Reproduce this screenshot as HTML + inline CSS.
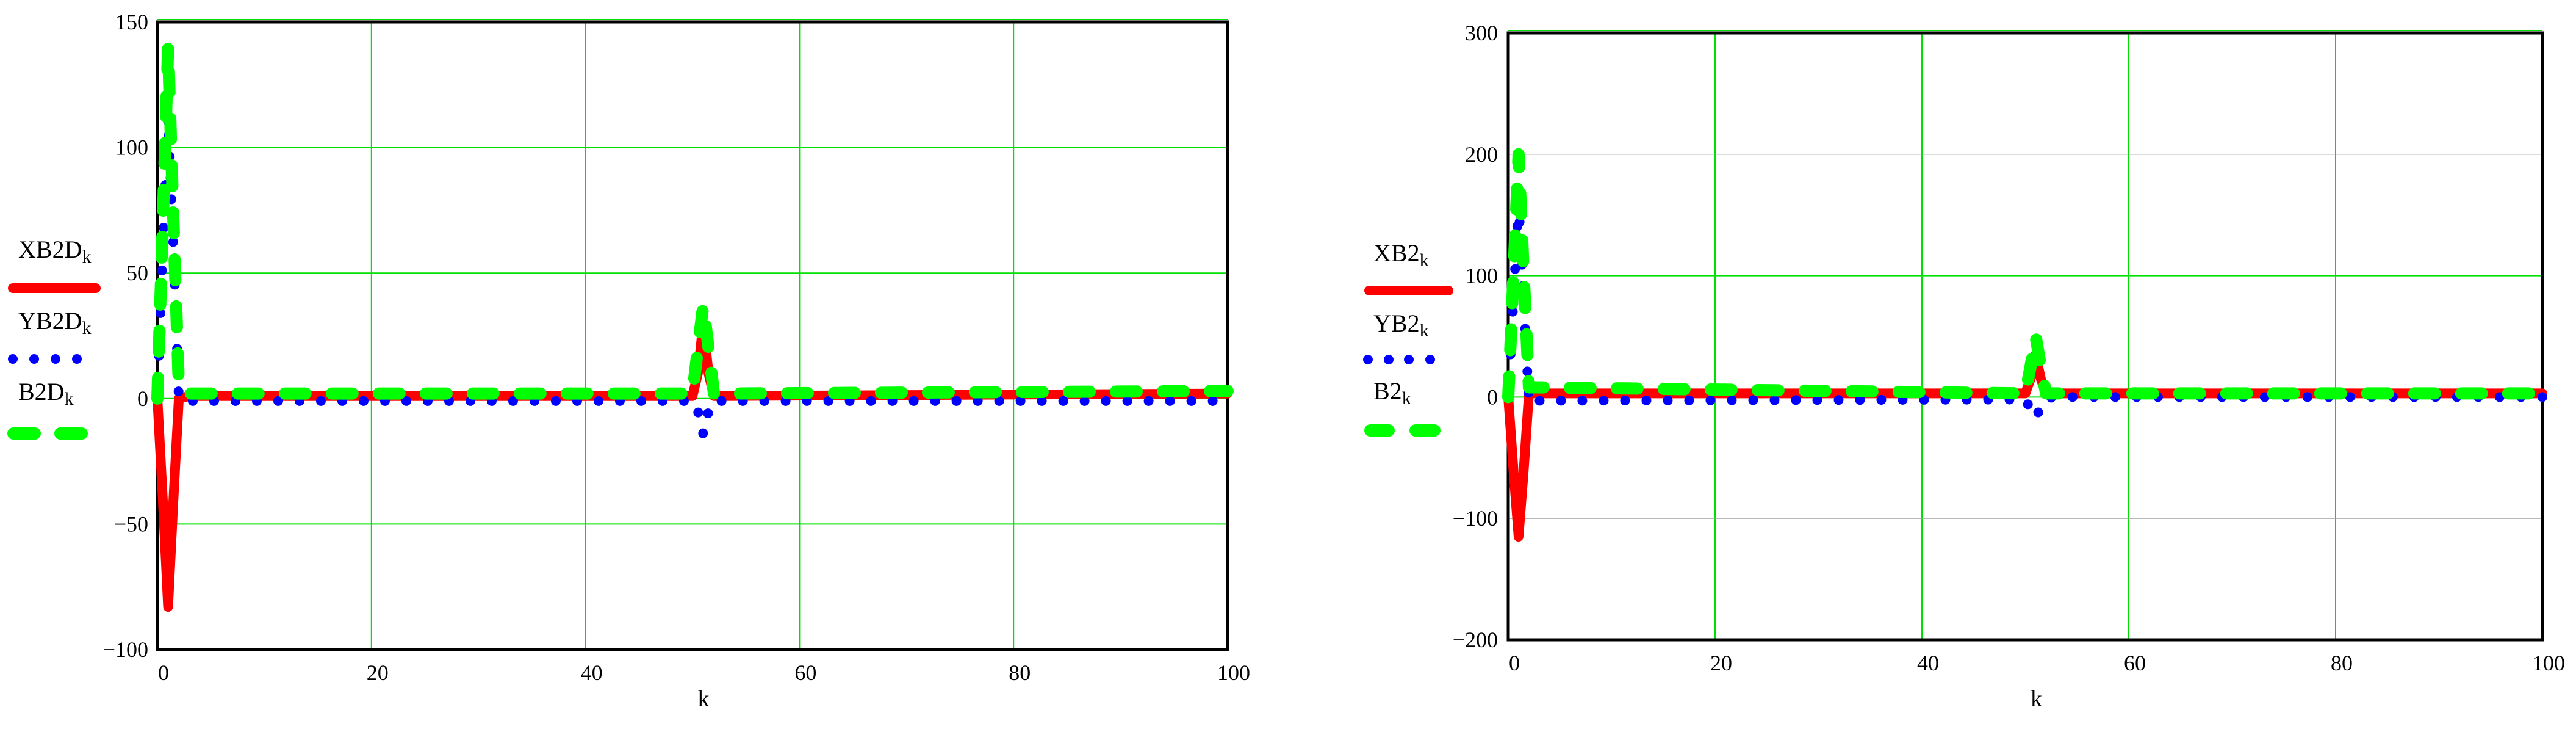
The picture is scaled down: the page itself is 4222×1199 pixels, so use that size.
<!DOCTYPE html>
<html><head><meta charset="utf-8"><style>
html,body{margin:0;padding:0;background:#fff;}
svg{display:block;font-family:"Liberation Serif",serif;}
</style></head><body>
<svg id="chart" width="4222" height="1199" viewBox="0 0 4222 1199" xmlns="http://www.w3.org/2000/svg"></svg>
<script>
// ---- data ----
const kLeft = [0,0.5,1,1.5,2,3,50,50.5,51,51.5,52,53,100];
const xb2dValues = [0,-40,-83,-40,0,1,1,10,30,10,1,1,2];
const yb2dValues = [0,60,112,60,0,-1,-1,-5,-14,-5,-1,-1,-1];
const b2dValues = [0,70,140,70,5,2,2,20,37,20,2,2,3];
const kRight = [0,0.5,1,1.5,2,3,50,50.5,51,51.5,52,53,100];
const xb2Values = [0,-60,-115,-60,3,3,3,15,35,15,3,3,3];
const yb2Values = [0,80,160,80,-5,-3,-2,-10,-17,-8,-1,0,0];
const b2Values = [0,100,200,100,8,8,3,25,50,25,3,3,3];
const xTicks = [0,20,40,60,80,100];
const yTicksLeft = [150,100,50,0,-50,-100];
const yTicksRight = [300,200,100,0,-100,-200];
const gridRightGray = [200,-100];

const NS='http://www.w3.org/2000/svg';
const svg=document.getElementById('chart');
function mk(tag,attrs,parent){const e=document.createElementNS(NS,tag);for(const k in attrs)e.setAttribute(k,attrs[k]);(parent||svg).appendChild(e);return e;}
function fmt(v){return v<0?'\u2212'+Math.abs(v):String(v);}

function plot(cfg){
  const g=mk('g',{});
  
  
  const sx=k=>cfg.x0+(k-0)/(100)*(cfg.x1-cfg.x0);
  const sy=v=>cfg.y1-(v-cfg.ymin)/(cfg.ymax-cfg.ymin)*(cfg.y1-cfg.y0);
  // grid
  xTicks.forEach(t=>{
    const l=mk('line',{x1:sx(t),x2:sx(t),y1:cfg.y0,y2:cfg.y1,stroke:'#00e000','stroke-width':2},g);
    
    
  });
  cfg.yTicks.forEach(t=>{
    const gray=cfg.gray.indexOf(t)>=0;
    const l=mk('line',{x1:cfg.x0,x2:cfg.x1,y1:sy(t),y2:sy(t),stroke:gray?'#a0a0a0':'#00e000','stroke-width':gray?1.2:2},g);
    
    
  });
  // top green line slightly above frame
  mk('line',{x1:cfg.x0,x2:cfg.x1,y1:cfg.y0-4,y2:cfg.y0-4,stroke:'#00e000','stroke-width':2},g);
  // frame
  const fr=mk('rect',{x:cfg.x0,y:cfg.y0,width:cfg.x1-cfg.x0,height:cfg.y1-cfg.y0,fill:'none',stroke:'#000','stroke-width':5},g);
  
  
  // series
  const pts=(ks,vs)=>ks.map((k,i)=>sx(k).toFixed(1)+','+sy(vs[i]).toFixed(1)).join(' ');
  const r=mk('polyline',{points:pts(cfg.k,cfg.red),fill:'none',stroke:'#ff0000','stroke-width':16,'stroke-linejoin':'round','stroke-linecap':'round'},g);
  
  
  const b=mk('polyline',{points:pts(cfg.k,cfg.blue),fill:'none',stroke:'#0000ff','stroke-width':16,'stroke-dasharray':'0 35','stroke-linecap':'round'},g);
  
  
  const gr=mk('polyline',{points:pts(cfg.k,cfg.green),fill:'none',stroke:'#00ff00','stroke-width':20,'stroke-dasharray':'34 43','stroke-linecap':'round','stroke-linejoin':'round'},g);
  
  
  // tick labels
  cfg.yTicks.concat(cfg.extraY||[]).forEach(t=>{
    const tx=mk('text',{x:cfg.labelX,y:sy(t)+12,'text-anchor':'end','font-size':36},g);
    tx.textContent=fmt(t);
    
    
  });
  xTicks.forEach(t=>{
    const tx=mk('text',{x:sx(t)+10,y:cfg.y1+50,'text-anchor':'middle','font-size':36},g);
    tx.textContent=String(t);
    
    
  });
  const kl=mk('text',{x:(cfg.x0+cfg.x1)/2+18,y:1157,'text-anchor':'middle','font-size':38},g);
  kl.textContent='k';
  
  
  // legend
  const L=cfg.leg;
  const names=cfg.names;
  [L.t1,L.t2,L.t3].forEach((ty,i)=>{
    const tx=mk('text',{x:L.tx,y:ty,'font-size':40},g);
    tx.textContent=names[i];
    const sub=mk('tspan',{'font-size':30,dy:8},tx);
    sub.textContent='k';
    
    
  });
  const lr=mk('line',{x1:L.rx1,x2:L.rx2,y1:L.ry,y2:L.ry,stroke:'#ff0000','stroke-width':16,'stroke-linecap':'round'},g);
  
  
  L.dots.forEach(dx=>{
    const c=mk('circle',{cx:dx,cy:L.dy,r:8,fill:'#0000ff'},g);
    
    
  });
  L.dashes.forEach(d=>{
    const l=mk('line',{x1:d[0]+10,x2:d[1]-10,y1:L.gy,y2:L.gy,stroke:'#00ff00','stroke-width':20,'stroke-linecap':'round'},g);
    
    
  });
}

plot({name:'left-plot',x0:258,x1:2012,y0:36,y1:1064,ymin:-100,ymax:150,yTicks:yTicksLeft,gray:[],
  k:kLeft,red:xb2dValues,blue:yb2dValues,green:b2dValues,labelX:243,
  names:['XB2D','YB2D','B2D'],
  leg:{tx:30,t1:422,t2:539,t3:655,rx1:21,rx2:157,ry:472,dy:588,dots:[21,56,91,126],gy:710,dashes:[[12,67],[89,144]]}});
plot({name:'right-plot',x0:2472,x1:4167,y0:54,y1:1048,ymin:-200,ymax:300,yTicks:yTicksRight,gray:gridRightGray,
  k:kRight,red:xb2Values,blue:yb2Values,green:b2Values,labelX:2455,
  names:['XB2','YB2','B2'],
  leg:{tx:2251,t1:428,t2:543,t3:654,rx1:2244,rx2:2374,ry:476,dy:589,dots:[2242,2276,2309,2344],gy:705,dashes:[[2236,2286],[2310,2361]]}});
</script>
</body></html>
